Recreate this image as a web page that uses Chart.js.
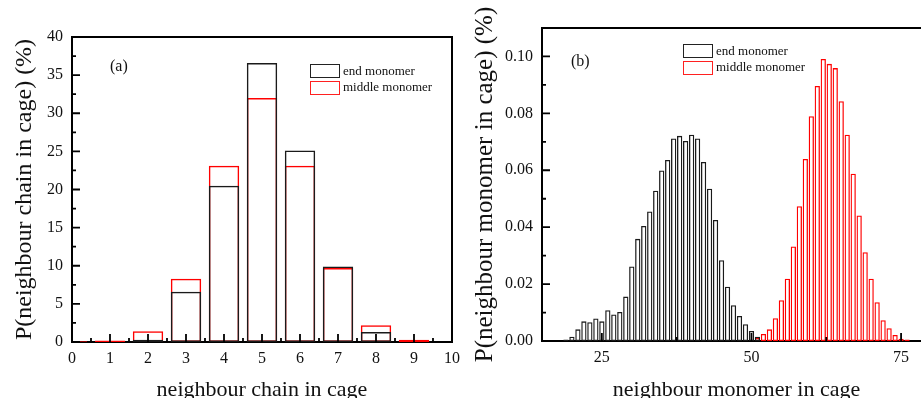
<!DOCTYPE html>
<html>
<head>
<meta charset="utf-8">
<script src="https://cdn.jsdelivr.net/npm/chart.js@4/dist/chart.umd.min.js"></script>
<style>
  html, body { margin:0; padding:0; width:921px; height:398px; overflow:hidden; background:#fff; }
  canvas { position:absolute; top:0; }
  #ca { left:0; }
  #cb { left:460px; }
  .lab { position:absolute; font-family:'Liberation Serif','Times New Roman',serif; color:#111; white-space:nowrap; z-index:5; }
  .box { position:absolute; box-sizing:border-box; width:30px; height:14px; background:#fff; z-index:5; }
  .lg { font-size:13px; line-height:14px; }
  .pn { font-size:16px; line-height:18px; }
</style>
</head>
<body>
<canvas id="ca" width="470" height="410"></canvas>
<canvas id="cb" width="480" height="410"></canvas>

<div class="pn lab" style="left:110px;top:57px;">(a)</div>
<div class="box" style="left:310px;top:64px;border:1.5px solid #222;"></div>
<div class="lg lab" style="left:343px;top:64px;">end monomer</div>
<div class="box" style="left:310px;top:81px;border:1.5px solid #ff2020;"></div>
<div class="lg lab" style="left:343px;top:80px;">middle monomer</div>

<div class="pn lab" style="left:571px;top:52px;">(b)</div>
<div class="box" style="left:683px;top:44px;border:1.5px solid #222;"></div>
<div class="lg lab" style="left:716px;top:44px;">end monomer</div>
<div class="box" style="left:683px;top:61px;border:1.5px solid #ff2020;"></div>
<div class="lg lab" style="left:716px;top:60px;">middle monomer</div>

<script>
// ---------- Panel (a): neighbour chain in cage ----------
const chainCount   = [0, 1, 2, 3, 4, 5, 6, 7, 8, 9];
const endChain     = [0, 0, 0.3, 6.6, 20.5, 36.6, 25.1, 9.9, 1.3, 0];
const middleChain  = [0.1, 0.2, 1.4, 8.3, 23.1, 32.0, 23.1, 9.7, 2.2, 0.3];
const xTicksA = [0, 1, 2, 3, 4, 5, 6, 7, 8, 9, 10];
const yTicksA = [0, 5, 10, 15, 20, 25, 30, 35, 40];

// ---------- Panel (b): neighbour monomer in cage ----------
const endMonomerN = [19,20,21,22,23,24,25,26,27,28,29,30,31,32,33,34,35,36,37,38,39,40,41,42,43,44,45,46,47,48,49,50,51];
const endMonomerP = [0.0005,0.0015,0.0041,0.0069,0.0066,0.0079,0.0069,0.0108,0.0093,0.0102,0.0156,0.0262,0.0359,0.0404,0.0455,0.0528,0.0599,0.0636,0.0712,0.0721,0.0703,0.0725,0.0712,0.0629,0.0535,0.0425,0.0284,0.0191,0.0126,0.0088,0.0059,0.0035,0.0015];
const middleMonomerN = [50,51,52,53,54,55,56,57,58,59,60,61,62,63,64,65,66,67,68,69,70,71,72,73,74,75,76];
const middleMonomerP = [0.0003,0.0012,0.0025,0.0041,0.0080,0.0143,0.0219,0.0332,0.0474,0.0640,0.0790,0.0896,0.0991,0.0974,0.0959,0.0843,0.0725,0.0588,0.0441,0.0312,0.0219,0.0136,0.0073,0.0045,0.0021,0.0008,0.0005];
const xTicksB = [25, 50, 75];
const yTicksB = [0, 0.02, 0.04, 0.06, 0.08, 0.10];

const SERIF = "'Liberation Serif','Times New Roman',serif";
const BLACK = '#1a1a1a';
const RED = '#ff0000';

function pts(xs, ys) { return xs.map((x, i) => ({ x: x, y: ys[i] })); }
function minors(majors, lo, hi) {
  const out = [];
  const step = majors[1] - majors[0];
  const all = [majors[0] - step].concat(majors, [majors[majors.length - 1] + step]);
  for (let i = 0; i < all.length - 1; i++) {
    const m = (all[i] + all[i + 1]) / 2;
    if (m >= lo - 1e-9 && m <= hi + 1e-9) out.push(m);
  }
  return out;
}

const framePlugin = {
  id: 'frame',
  beforeDatasetsDraw(chart) {
    const { ctx, chartArea: a } = chart;
    ctx.save();
    ctx.strokeStyle = '#000';
    ctx.lineWidth = 2;
    ctx.strokeRect(a.left, a.top, a.right - a.left, a.bottom - a.top);
    ctx.restore();
  }
};
const ticksPlugin = {
  id: 'innerTicks',
  afterDatasetsDraw(chart) {
    const { ctx, chartArea: a, scales } = chart;
    const x = scales.x, y = scales.y;
    const xm = x.ticks.map(t => t.value), ym = y.ticks.map(t => t.value);
    ctx.save();
    ctx.strokeStyle = '#000';
    ctx.lineWidth = 1.8;
    ctx.beginPath();
    const seg = (x1, y1, x2, y2) => { ctx.moveTo(x1, y1); ctx.lineTo(x2, y2); };
    xm.forEach(v => { const p = x.getPixelForValue(v); seg(p, a.bottom, p, a.bottom - 8); });
    minors(xm, x.min, x.max).forEach(v => { const p = x.getPixelForValue(v); seg(p, a.bottom, p, a.bottom - 4); });
    ym.forEach(v => { const p = y.getPixelForValue(v); seg(a.left, p, a.left + 8, p); });
    minors(ym, y.min, y.max).forEach(v => { const p = y.getPixelForValue(v); seg(a.left, p, a.left + 4, p); });
    ctx.stroke();
    ctx.restore();
  }
};

function makeChart(id, cfg) {
  return new Chart(document.getElementById(id), {
    type: 'bar',
    data: {
      datasets: [
        { label: 'end monomer', data: cfg.endData, borderColor: BLACK, backgroundColor: 'rgba(0,0,0,0)',
          borderWidth: cfg.bw, borderSkipped: false, barPercentage: cfg.barPct, categoryPercentage: 1, grouped: false },
        { label: 'middle monomer', data: cfg.midData, borderColor: RED, backgroundColor: 'rgba(0,0,0,0)',
          borderWidth: cfg.bw, borderSkipped: false, barPercentage: cfg.barPct, categoryPercentage: 1, grouped: false }
      ]
    },
    options: {
      responsive: false,
      animation: false,
      events: [],
      layout: { padding: cfg.padding },
      plugins: { legend: { display: false }, tooltip: { enabled: false } },
      scales: {
        x: {
          type: 'linear', min: cfg.xMin, max: cfg.xMax, offset: false,
          grid: { display: false, drawTicks: false }, border: { display: false },
          afterBuildTicks: s => { s.ticks = cfg.xTicks.map(v => ({ value: v })); },
          afterFit: s => { s.height = cfg.xHeight; },
          ticks: { font: { family: SERIF, size: 16 }, color: '#111', padding: 7, maxRotation: 0, autoSkip: false,
                   callback: v => String(v) },
          title: { display: true, text: cfg.xTitle, font: { family: SERIF, size: 22 }, color: '#111',
                   padding: { top: 0, bottom: 7 } }
        },
        y: {
          type: 'linear', min: cfg.yMin, max: cfg.yMax,
          grid: { display: false, drawTicks: false }, border: { display: false },
          afterBuildTicks: s => { s.ticks = cfg.yTicks.map(v => ({ value: v })); },
          afterFit: s => { s.width = cfg.yWidth; },
          ticks: { font: { family: SERIF, size: 16 }, color: '#111', padding: 9, autoSkip: false,
                   callback: cfg.yFmt },
          title: { display: true, text: cfg.yTitle, font: { family: SERIF, size: cfg.yTitleSize }, color: '#111',
                   padding: { top: 10, bottom: 0 } }
        }
      }
    },
    plugins: [framePlugin, ticksPlugin]
  });
}

makeChart('ca', {
  endData: pts(chainCount, endChain),
  midData: pts(chainCount, middleChain),
  bw: 1.5, barPct: 0.8,
  xMin: 0, xMax: 10, yMin: 0, yMax: 40,
  xTicks: xTicksA, yTicks: yTicksA,
  padding: { left: 0, top: 37, right: 18, bottom: 0 },
  xHeight: 68, yWidth: 72, yTitleSize: 24,
  xTitle: 'neighbour chain in cage',
  yTitle: 'P(neighbour chain in cage) (%)',
  yFmt: v => String(v)
});

makeChart('cb', {
  endData: pts(endMonomerN, endMonomerP),
  midData: pts(middleMonomerN, middleMonomerP),
  bw: 1.3, barPct: 0.88,
  xMin: 15, xMax: 80, yMin: 0, yMax: 0.11,
  xTicks: xTicksB, yTicks: yTicksB,
  padding: { left: 0, top: 28, right: 9, bottom: 0 },
  xHeight: 69, yWidth: 82, yTitleSize: 25,
  xTitle: 'neighbour monomer in cage',
  yTitle: 'P(neighbour monomer in cage) (%)',
  yFmt: v => Number(v).toFixed(2)
});
</script>
</body>
</html>
